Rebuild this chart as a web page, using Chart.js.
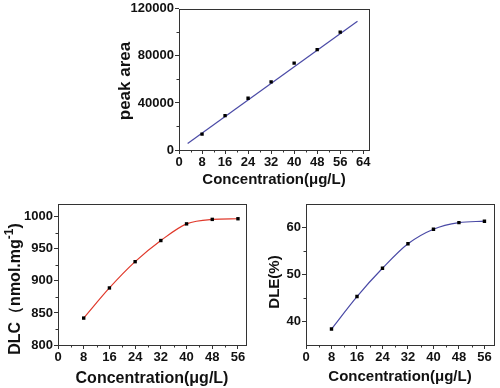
<!DOCTYPE html>
<html>
<head>
<meta charset="utf-8">
<script src="https://cdn.jsdelivr.net/npm/chart.js@4"></script>
<style>
  html, body { margin: 0; padding: 0; background: #fff; }
  #wrap { position: relative; width: 500px; height: 388px; overflow: hidden; }
  .box { position: absolute; }
</style>
</head>
<body>
<div id="wrap">
  <div class="box" style="left:100px;top:0;width:280px;height:195px"><canvas id="peakChart"></canvas></div>
  <div class="box" style="left:0;top:195px;width:250px;height:193px"><canvas id="dlcChart"></canvas></div>
  <div class="box" style="left:250px;top:195px;width:250px;height:193px"><canvas id="dleChart"></canvas></div>
</div>
<script>
// data
const concentrations = [8, 16, 24, 32, 40, 48, 56];
const peakArea = [13500, 29200, 44000, 57900, 73800, 85300, 100200];
const fitLineX = [3, 62];
const fitLineY = [5600, 109500];
const dlcValues = [842, 889, 930, 963, 989, 996, 997];
const dleValues = [38.4, 45.3, 51.3, 56.5, 59.6, 61.0, 61.3];

// tick labels
const concTicksTop = [0, 8, 16, 24, 32, 40, 48, 56, 64];
const concTicks = [0, 8, 16, 24, 32, 40, 48, 56];
const peakTicks = [0, 40000, 80000, 120000];
const dlcTicks = [800, 850, 900, 950, 1000];
const dleTicks = [40, 50, 60];

const FONT = "'Liberation Sans', Arial, sans-serif";
const INK = '#111';

// frame round the plot area + small minor ticks half way between the major ones
const framePlugin = {
    id: 'frame',
    afterDraw(chart) {
        const a = chart.chartArea;
        const ctx = chart.ctx;
        ctx.save();
        ctx.strokeStyle = '#333';
        ctx.lineWidth = 1;
        ctx.strokeRect(Math.round(a.left) + 0.5, Math.round(a.top) + 0.5,
            Math.round(a.right - a.left), Math.round(a.bottom - a.top));

        ctx.beginPath();
        const xs = chart.scales.x, ys = chart.scales.y;
        const xt = xs.ticks.map(t => t.value);
        for (let i = 0; i < xt.length - 1; i++) {
            const px = Math.round(xs.getPixelForValue((xt[i] + xt[i + 1]) / 2)) + 0.5;
            ctx.moveTo(px, a.bottom);
            ctx.lineTo(px, a.bottom + 2.5);
        }
        const yt = ys.ticks.map(t => t.value);
        for (let i = 0; i < yt.length - 1; i++) {
            const py = Math.round(ys.getPixelForValue((yt[i] + yt[i + 1]) / 2)) + 0.5;
            ctx.moveTo(a.left, py);
            ctx.lineTo(a.left - 2.5, py);
        }
        ctx.stroke();
        ctx.restore();
    }
};

// rotated y title placed by its centre; parts marked sup are drawn raised and smaller
const yTitlePlugin = {
    id: 'yTitle',
    afterDraw(chart, args, opts) {
        const ctx = chart.ctx;
        const big = 'bold ' + opts.size + 'px ' + FONT;
        const small = 'bold ' + Math.round(opts.size * 0.75) + 'px ' + FONT;
        let total = 0;
        opts.parts.forEach(p => {
            ctx.font = p.sup ? small : big;
            p.w = ctx.measureText(p.t).width;
            total += p.w;
        });
        ctx.save();
        ctx.translate(opts.x, opts.y);
        ctx.rotate(-Math.PI / 2);
        ctx.fillStyle = INK;
        ctx.textAlign = 'left';
        ctx.textBaseline = 'middle';
        let pos = -total / 2;
        opts.parts.forEach(p => {
            ctx.font = p.sup ? small : big;
            ctx.fillText(p.t, pos, p.sup ? -opts.size * 0.42 : 0);
            pos += p.w;
        });
        ctx.restore();
    }
};

function toPoints(xs, ys) {
    return xs.map((x, i) => ({ x: x, y: ys[i] }));
}

function makeChart(id, cfg) {
    const ctx = document.getElementById(id).getContext('2d');
    const datasets = [];
    if (cfg.fit) {
        datasets.push({
            data: cfg.fit,
            showLine: true,
            borderColor: cfg.lineColor,
            borderWidth: 1.2,
            pointRadius: 0,
            order: 2
        });
    }
    datasets.push({
        data: toPoints(concentrations, cfg.values),
        showLine: cfg.curve,
        cubicInterpolationMode: 'monotone',
        borderColor: cfg.lineColor,
        borderWidth: 1.2,
        pointStyle: 'rect',
        pointRadius: 2.4,
        pointBackgroundColor: '#000',
        pointBorderColor: '#000',
        pointBorderWidth: 0,
        order: 1
    });

    return new Chart(ctx, {
        type: 'scatter',
        data: { datasets: datasets },
        options: {
            responsive: true,
            maintainAspectRatio: false,
            animation: false,
            layout: { padding: { top: cfg.padTop, right: cfg.padRight, left: 0, bottom: 0 } },
            plugins: {
                legend: { display: false },
                tooltip: { enabled: false },
                yTitle: cfg.yTitle
            },
            scales: {
                x: {
                    type: 'linear',
                    min: 0,
                    max: cfg.xMax,
                    afterBuildTicks: axis => { axis.ticks = cfg.xTicks.map(v => ({ value: v })); },
                    afterFit: axis => { axis.height = cfg.xAxisH; },
                    border: { display: false },
                    grid: { drawOnChartArea: false, drawTicks: true, tickLength: 4, color: '#333' },
                    ticks: {
                        autoSkip: false, maxRotation: 0, padding: 1,
                        callback: v => String(v),
                        color: INK, font: { family: FONT, size: 13, weight: 'bold' }
                    },
                    title: {
                        display: true, text: 'Concentration(μg/L)', color: INK,
                        padding: { top: 0, bottom: cfg.xTitlePad },
                        font: { family: FONT, size: cfg.xTitleSize, weight: 'bold' }
                    }
                },
                y: {
                    type: 'linear',
                    min: cfg.yMin,
                    max: cfg.yMax,
                    afterBuildTicks: axis => { axis.ticks = cfg.yTicks.map(v => ({ value: v })); },
                    afterFit: axis => { axis.width = cfg.yAxisW; },
                    border: { display: false },
                    grid: { drawOnChartArea: false, drawTicks: true, tickLength: 4, color: '#333' },
                    ticks: {
                        padding: 1,
                        callback: v => String(v),
                        color: INK, font: { family: FONT, size: 13, weight: 'bold' }
                    }
                }
            }
        },
        plugins: [framePlugin, yTitlePlugin]
    });
}

makeChart('peakChart', {
    values: peakArea, curve: false,
    fit: toPoints(fitLineX, fitLineY),
    lineColor: '#4a4aa6',
    xMax: 66, xTicks: concTicksTop,
    yMin: 0, yMax: 120000, yTicks: peakTicks,
    yTitle: { parts: [{ t: 'peak area' }], x: 25, y: 81, size: 17 },
    padTop: 7, padRight: 11, xAxisH: 45, yAxisW: 79,
    xTitleSize: 15, xTitlePad: 6
});

makeChart('dlcChart', {
    values: dlcValues, curve: true,
    lineColor: '#e0392b',
    xMax: 58.5, xTicks: concTicks,
    yMin: 800, yMax: 1020, yTicks: dlcTicks,
    yTitle: { parts: [{ t: 'DLC\uFF08nmol.mg' }, { t: '-1', sup: true }, { t: ')' }], x: 16, y: 94, size: 16 },
    padTop: 9, padRight: 2, xAxisH: 43, yAxisW: 58,
    xTitleSize: 16, xTitlePad: 0
});

makeChart('dleChart', {
    values: dleValues, curve: true,
    lineColor: '#4a4aa6',
    xMax: 59, xTicks: concTicks,
    yMin: 35, yMax: 65, yTicks: dleTicks,
    yTitle: { parts: [{ t: 'DLE(%)' }], x: 25, y: 87, size: 15 },
    padTop: 8, padRight: 6, xAxisH: 43, yAxisW: 56,
    xTitleSize: 15, xTitlePad: 2
});
</script>
</body>
</html>
